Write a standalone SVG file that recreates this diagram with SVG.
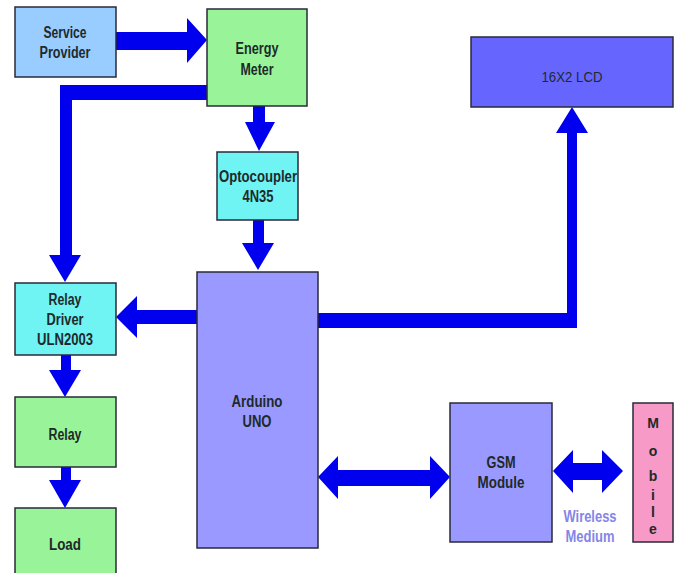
<svg xmlns="http://www.w3.org/2000/svg" width="677" height="573" viewBox="0 0 677 573">
<style>
.box{stroke:#2a2a3a;stroke-width:1.5}
.t{font-family:"Liberation Sans",Arial,sans-serif;font-size:16px;font-weight:bold;fill:#1e2a2a;text-anchor:middle}
.arr{fill:#0000ee;stroke:none}
</style>
<rect width="677" height="573" fill="#ffffff"/>
<g id="connectors">
<polygon class="arr" points="116,32 187,32 187,18 207,40 187,63 187,50 116,50"/>
<polygon class="arr" points="207,85 207,100 72,100 72,255 81,255 65,282 49,255 60,255 60,85"/>
<polygon class="arr" points="253,106 265,106 265,122 275,122 259,151 245,122 253,122"/>
<polygon class="arr" points="253,220 264,220 264,243 274,243 258,270 242,243 253,243"/>
<polygon class="arr" points="197,310 197,324 137,324 137,338 116,317 137,296 137,310"/>
<polygon class="arr" points="318,313 567,313 567,133 556,133 572,107 588,133 577,133 577,328 318,328"/>
<polygon class="arr" points="61,355 71,355 71,370 81,370 65,397 49,370 61,370"/>
<polygon class="arr" points="61,467 71,467 71,480 81,480 65,508 49,480 61,480"/>
<polygon class="arr" points="318,477 338,456 338,470 430,470 430,456 450,477 430,499 430,486 338,486 338,499"/>
<polygon class="arr" points="553,471 573,450 573,463 602,463 602,450 623,471 602,493 602,480 573,480 573,493"/>
</g>
<g id="service-provider">
<rect class="box" x="15" y="7" width="101" height="70" fill="#99ccff"/>
<text class="t" x="65" y="38" textLength="43" lengthAdjust="spacingAndGlyphs">Service</text>
<text class="t" x="65" y="58" textLength="51" lengthAdjust="spacingAndGlyphs">Provider</text>
</g>
<g id="energy-meter">
<rect class="box" x="207" y="9" width="100" height="97" fill="#99f399"/>
<text class="t" x="257" y="54" textLength="43" lengthAdjust="spacingAndGlyphs">Energy</text>
<text class="t" x="257" y="75" textLength="33" lengthAdjust="spacingAndGlyphs">Meter</text>
</g>
<g id="optocoupler">
<rect class="box" x="217" y="152" width="81" height="68" fill="#6ff3f3"/>
<text class="t" x="258" y="182" textLength="78" lengthAdjust="spacingAndGlyphs">Optocoupler</text>
<text class="t" x="258" y="202" textLength="31" lengthAdjust="spacingAndGlyphs">4N35</text>
</g>
<g id="relay-driver">
<rect class="box" x="15" y="283" width="101" height="72" fill="#6ff3f3"/>
<text class="t" x="65" y="305" textLength="33" lengthAdjust="spacingAndGlyphs">Relay</text>
<text class="t" x="65" y="325" textLength="37" lengthAdjust="spacingAndGlyphs">Driver</text>
<text class="t" x="65" y="345" textLength="56" lengthAdjust="spacingAndGlyphs">ULN2003</text>
</g>
<g id="relay">
<rect class="box" x="15" y="397" width="101" height="70" fill="#99f399"/>
<text class="t" x="65" y="440" textLength="33" lengthAdjust="spacingAndGlyphs">Relay</text>
</g>
<g id="load">
<rect class="box" x="15" y="508" width="101" height="70" fill="#99f399"/>
<text class="t" x="65" y="550" textLength="32" lengthAdjust="spacingAndGlyphs">Load</text>
</g>
<g id="arduino">
<rect class="box" x="197" y="272" width="121" height="276" fill="#9999ff"/>
<text class="t" x="257" y="407" textLength="51" lengthAdjust="spacingAndGlyphs">Arduino</text>
<text class="t" x="257" y="427" textLength="29" lengthAdjust="spacingAndGlyphs">UNO</text>
</g>
<g id="lcd">
<rect class="box" x="471" y="37" width="202" height="70" fill="#6666ff"/>
<text class="t" x="572" y="82" style="font-weight:normal;font-size:15px" textLength="61" lengthAdjust="spacingAndGlyphs">16X2 LCD</text>
</g>
<g id="gsm">
<rect class="box" x="450" y="403" width="102" height="139" fill="#9999ff"/>
<text class="t" x="501" y="468" textLength="29" lengthAdjust="spacingAndGlyphs">GSM</text>
<text class="t" x="501" y="488" textLength="47" lengthAdjust="spacingAndGlyphs">Module</text>
</g>
<g id="wireless-label">
<text class="t" x="590" y="522" style="fill:#8585e6" textLength="53" lengthAdjust="spacingAndGlyphs">Wireless</text>
<text class="t" x="590" y="542" style="fill:#8585e6" textLength="49" lengthAdjust="spacingAndGlyphs">Medium</text>
</g>
<g id="mobile">
<rect class="box" x="633" y="403" width="40" height="139" fill="#f79ac8"/>
<text class="t" x="653" y="428" style="font-size:14px">M</text>
<text class="t" x="653" y="456" style="font-size:14px">o</text>
<text class="t" x="653" y="481" style="font-size:14px">b</text>
<text class="t" x="653" y="500" style="font-size:14px">i</text>
<text class="t" x="653" y="517" style="font-size:14px">l</text>
<text class="t" x="653" y="534" style="font-size:14px">e</text>
</g>
</svg>
